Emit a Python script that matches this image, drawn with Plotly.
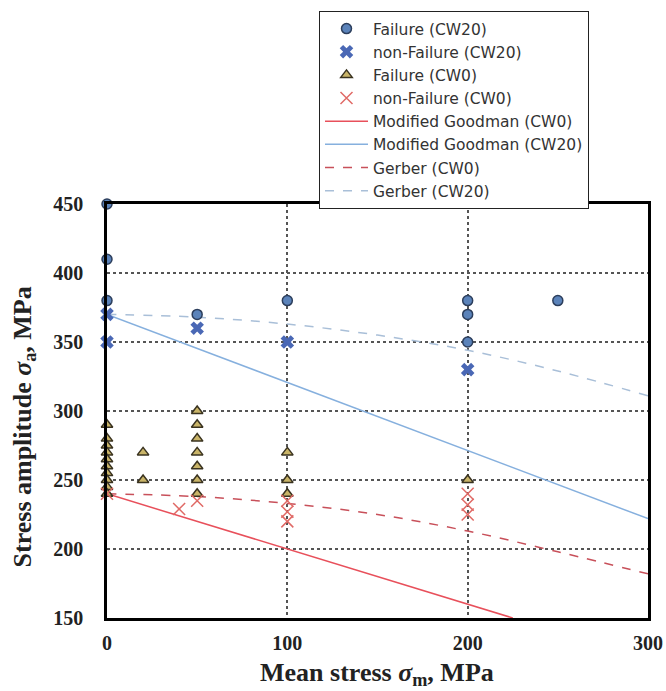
import plotly.graph_objects as go

# ---- data ----
fail_cw20_x = [0, 0, 0, 50, 100, 200, 200, 200, 250]
fail_cw20_y = [450, 410, 380, 370, 380, 380, 370, 350, 380]

nonfail_cw20_x = [0, 0, 50, 100, 200]
nonfail_cw20_y = [370, 350, 360, 350, 330]

fail_cw0_x = [0, 0, 0, 0, 0, 0, 0, 0, 0, 0, 20, 20, 50, 50, 50, 50, 50, 50, 50, 100, 100, 100, 200]
fail_cw0_y = [290, 280, 275, 270, 265, 260, 255, 250, 245, 240, 270, 250,
              300, 290, 280, 270, 260, 250, 240, 270, 250, 240, 250]

nonfail_cw0_x = [0, 40, 50, 100, 100, 100, 200, 200, 200]
nonfail_cw0_y = [240, 229, 235, 235, 227, 220, 240, 232, 225]

goodman_cw0_x = [0, 225]
goodman_cw0_y = [240, 150]
goodman_cw20_x = [0, 300]
goodman_cw20_y = [370, 222]

gerber_x = [0, 50, 100, 150, 200, 250, 300]
gerber_cw0_y = [240, 238, 233, 225, 213, 198, 182]
gerber_cw20_y = [370, 368, 363, 355, 344, 329, 311]

x_ticks = [0, 100, 200, 300]
y_ticks = [150, 200, 250, 300, 350, 400, 450]

x_title = "Mean stress <i>σ</i><sub>m</sub>, MPa"
y_title = "Stress amplitude <i>σ</i><sub>a</sub>, MPa"

fig = go.Figure()

# lines first (drawn beneath markers), legend order set with legendrank
fig.add_trace(go.Scatter(x=goodman_cw0_x, y=goodman_cw0_y, mode="lines",
                         name="Modified Goodman (CW0)", legendrank=5,
                         line=dict(color="#e8505b", width=1.5)))
fig.add_trace(go.Scatter(x=goodman_cw20_x, y=goodman_cw20_y, mode="lines",
                         name="Modified Goodman (CW20)", legendrank=6,
                         line=dict(color="#86b0de", width=1.5)))
fig.add_trace(go.Scatter(x=gerber_x, y=gerber_cw0_y, mode="lines", line_shape="spline",
                         name="Gerber (CW0)", legendrank=7,
                         line=dict(color="#c8505a", width=1.5, dash="dash")))
fig.add_trace(go.Scatter(x=gerber_x, y=gerber_cw20_y, mode="lines", line_shape="spline",
                         name="Gerber (CW20)", legendrank=8,
                         line=dict(color="#a9bfd8", width=1.5, dash="dash")))

fig.add_trace(go.Scatter(x=fail_cw20_x, y=fail_cw20_y, mode="markers",
                         name="Failure (CW20)", legendrank=1, cliponaxis=False,
                         marker=dict(symbol="circle", size=10, color="#5b83ba",
                                     line=dict(color="#2c3e5c", width=1.5))))
fig.add_trace(go.Scatter(x=nonfail_cw20_x, y=nonfail_cw20_y, mode="markers",
                         name="non-Failure (CW20)", legendrank=2, cliponaxis=False,
                         marker=dict(symbol="x", size=12, color="#4a68b5",
                                     line=dict(width=0))))
fig.add_trace(go.Scatter(x=fail_cw0_x, y=fail_cw0_y, mode="markers",
                         name="Failure (CW0)", legendrank=3, cliponaxis=False,
                         marker=dict(symbol="triangle-up", size=10, color="#c9b468",
                                     line=dict(color="#3a3320", width=1.5))))
fig.add_trace(go.Scatter(x=nonfail_cw0_x, y=nonfail_cw0_y, mode="markers",
                         name="non-Failure (CW0)", legendrank=4, cliponaxis=False,
                         marker=dict(symbol="x-thin", size=12, color="#e06a66",
                                     line=dict(color="#e06a66", width=1.5))))

tick_font = dict(family="Liberation Serif", size=20, color="#222", weight="bold")
title_font = dict(family="Liberation Serif", size=26, color="#222", weight="bold")

L, R, T, B = 107, 18, 203, 73
W, H = 666, 691
pw, ph = W - L - R, H - T - B

fig.update_layout(
    width=W, height=H,
    margin=dict(l=L, r=R, t=T, b=B),
    paper_bgcolor="white", plot_bgcolor="white",
    showlegend=True,
    legend=dict(x=(319 - L) / pw, y=(H - B - 11) / ph, xanchor="left", yanchor="top",
                bgcolor="white", bordercolor="#222", borderwidth=1,
                font=dict(family="DejaVu Sans", size=15.5, color="#333"),
                itemwidth=43, tracegroupgap=0),
    xaxis=dict(range=[0, 300], tickvals=x_ticks, ticktext=[str(v) for v in x_ticks],
               tickfont=tick_font, showline=True, mirror=True, linecolor="black",
               linewidth=2.5, showgrid=True, gridcolor="#555", griddash="dot",
               gridwidth=1.5, zeroline=False, ticks="", automargin=False,
               ticklabelstandoff=5),
    yaxis=dict(range=[150, 450], tickvals=y_ticks, ticktext=[str(v) for v in y_ticks],
               tickfont=tick_font, showline=True, mirror=True, linecolor="black",
               linewidth=2.5, showgrid=True, gridcolor="#555", griddash="dot",
               gridwidth=1.5, zeroline=False, ticks="", automargin=False,
               ticklabelstandoff=17),
    annotations=[
        dict(text=x_title, xref="paper", yref="paper", x=(377 - L) / pw,
             y=(H - B - 674) / ph, xanchor="center", yanchor="middle",
             showarrow=False, font=title_font),
        dict(text=y_title, xref="paper", yref="paper", x=(24 - L) / pw,
             y=(H - B - 427) / ph, xanchor="center", yanchor="middle",
             textangle=-90, showarrow=False, font=title_font),
    ],
)

fig.write_html("out.html", config={"displayModeBar": False},
               post_script="document.body.style.margin='0';document.body.style.overflow='hidden';")
